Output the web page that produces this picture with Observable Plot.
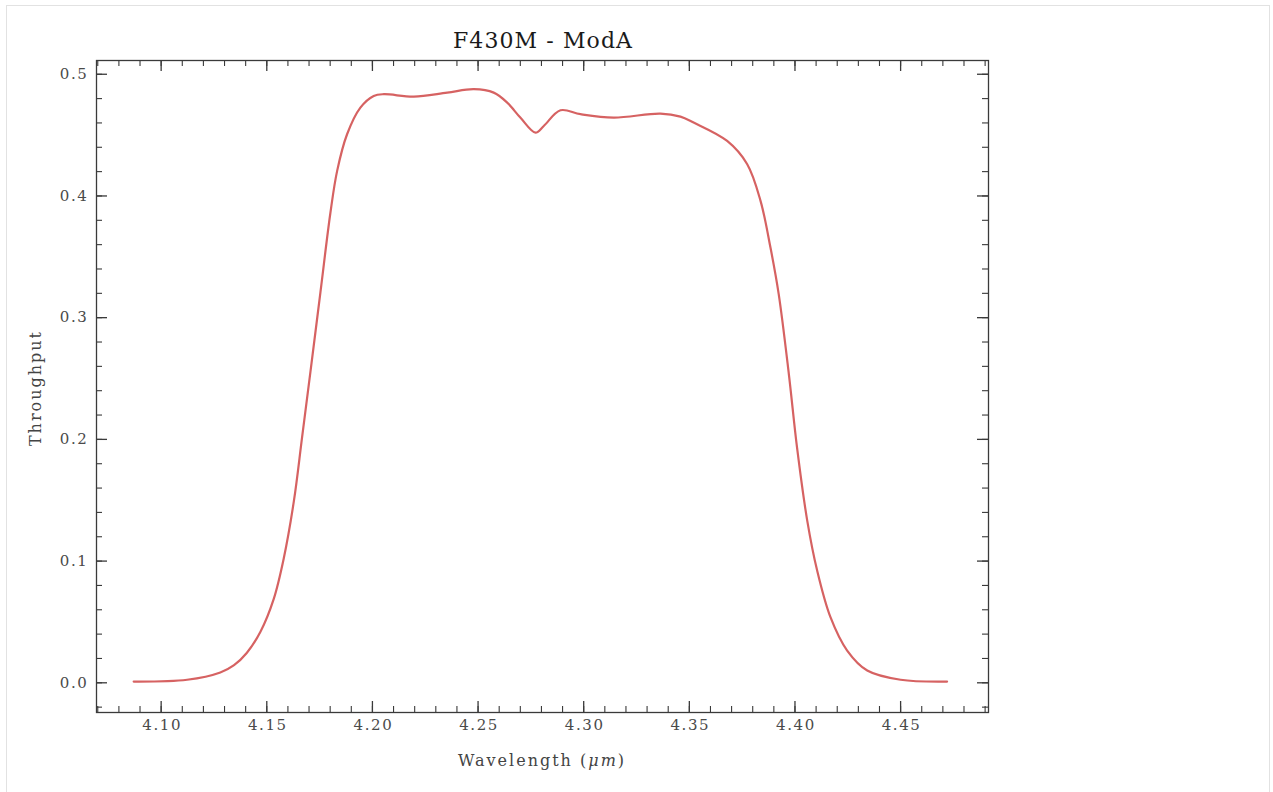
<!DOCTYPE html>
<html>
<head>
<meta charset="utf-8">
<script src="https://cdn.jsdelivr.net/npm/d3@7"></script>
<script src="https://cdn.jsdelivr.net/npm/@observablehq/plot@0.6"></script>
<style>
  html, body { margin: 0; padding: 0; background: #fff; overflow: hidden; }
  #wrap { position: relative; width: 1273px; height: 792px; }
  #border { position: absolute; left: 6px; top: 5px; width: 1264px; height: 820px; border: 1px solid #e2e2e2; box-sizing: border-box; }
  .lbl { position: absolute; font-family: "DejaVu Serif", serif; color: #444; white-space: nowrap; }
  #title { left: 543px; top: 40px; transform: translate(-50%, -50%); font-size: 22px; letter-spacing: 1.1px; color: #1a1a1a; }
  #xlabel { left: 542px; top: 760px; transform: translate(-50%, -50%); font-size: 16px; letter-spacing: 2px; }
  #ylabel { left: 35px; top: 388px; transform: translate(-50%, -50%) rotate(-90deg); font-size: 16px; letter-spacing: 2px; }
  #chart { position: absolute; left: 0; top: 0; }
  #chart svg text { letter-spacing: 1.6px; }
</style>
</head>
<body>
<div id="wrap">
  <div id="border"></div>
  <div id="chart"></div>
  <div id="title" class="lbl">F430M - ModA</div>
  <div id="xlabel" class="lbl">Wavelength (<i>μm</i>)</div>
  <div id="ylabel" class="lbl">Throughput</div>
</div>
<script>
// Filter throughput curve
const wavelength = [4.087, 4.1123, 4.128, 4.1345, 4.1405, 4.147, 4.1533, 4.158, 4.1628, 4.1667, 4.1707,
  4.1754, 4.1801, 4.1833, 4.188, 4.1943, 4.2006, 4.2054, 4.2196, 4.2354, 4.248, 4.2574,
  4.2638, 4.27, 4.2772, 4.2811, 4.289, 4.2985, 4.3142, 4.3363, 4.3458, 4.352, 4.3679,
  4.3774, 4.3837, 4.3884, 4.3923, 4.3971, 4.401, 4.4058, 4.4105, 4.4168, 4.4247, 4.4342,
  4.45, 4.472];
const throughput = [0.001, 0.0025, 0.0085, 0.0145, 0.0245, 0.042, 0.069, 0.102, 0.149, 0.2016, 0.256,
  0.321, 0.386, 0.4206, 0.4507, 0.4726, 0.4822, 0.4836, 0.4816, 0.4849, 0.4877, 0.4849,
  0.4767, 0.4644, 0.452, 0.4575, 0.4704, 0.4672, 0.4644, 0.4677, 0.4652, 0.4603, 0.4452,
  0.4261, 0.396, 0.3576, 0.3194, 0.2537, 0.193, 0.1333, 0.0922, 0.0539, 0.0265, 0.0101,
  0.0025, 0.001];

const xMajor = [4.10, 4.15, 4.20, 4.25, 4.30, 4.35, 4.40, 4.45];
const xMinor = d3.range(407, 450).map(v => v / 100);
const yMajor = [0.0, 0.1, 0.2, 0.3, 0.4, 0.5];
const yMinor = d3.range(-1, 26).map(v => v * 0.02);

const xDomain = [4.0694, 4.4916];
const yDomain = [-0.0244, 0.5113];

const data = wavelength.map((w, i) => ({w, t: throughput[i]}));

const W = 1273, H = 792;
const mL = 96, mR = 285, mT = 60, mB = 80;
const fw = W - mL - mR, fh = H - mT - mB;
const major = 11, minor = 6;
const ink = "#3a3a3a";

const plot = Plot.plot({
  width: W,
  height: H,
  marginLeft: mL,
  marginRight: mR,
  marginTop: mT,
  marginBottom: mB,
  style: {fontFamily: "DejaVu Serif, serif", fontSize: "15px", color: "#4a4a4a", background: "transparent"},
  x: {domain: xDomain},
  y: {domain: yDomain},
  marks: [
    Plot.line(data, {x: "w", y: "t", stroke: "#d66262", strokeWidth: 2.2, curve: "catmull-rom"}),
    // minor ticks (inward, all four sides)
    Plot.tickX(xMinor, {x: d => d, insetTop: fh - minor, stroke: ink, strokeWidth: 1.1}),
    Plot.tickX(xMinor, {x: d => d, insetBottom: fh - minor, stroke: ink, strokeWidth: 1.1}),
    Plot.tickY(yMinor, {y: d => d, insetRight: fw - minor, stroke: ink, strokeWidth: 1.1}),
    Plot.tickY(yMinor, {y: d => d, insetLeft: fw - minor, stroke: ink, strokeWidth: 1.1}),
    // major ticks
    Plot.tickX(xMajor, {x: d => d, insetTop: fh - major, stroke: ink, strokeWidth: 1.3}),
    Plot.tickX(xMajor, {x: d => d, insetBottom: fh - major, stroke: ink, strokeWidth: 1.3}),
    Plot.tickY(yMajor, {y: d => d, insetRight: fw - major, stroke: ink, strokeWidth: 1.3}),
    Plot.tickY(yMajor, {y: d => d, insetLeft: fw - major, stroke: ink, strokeWidth: 1.3}),
    Plot.axisX(xMajor, {tickSize: 0, tickPadding: 7, dx: 1, tickFormat: d3.format(".2f"), label: null}),
    Plot.axisY(yMajor, {tickSize: 0, tickPadding: 8, tickFormat: d3.format(".1f"), label: null}),
    Plot.frame({stroke: ink, strokeWidth: 1.3})
  ]
});
document.getElementById("chart").appendChild(plot);
</script>
</body>
</html>
